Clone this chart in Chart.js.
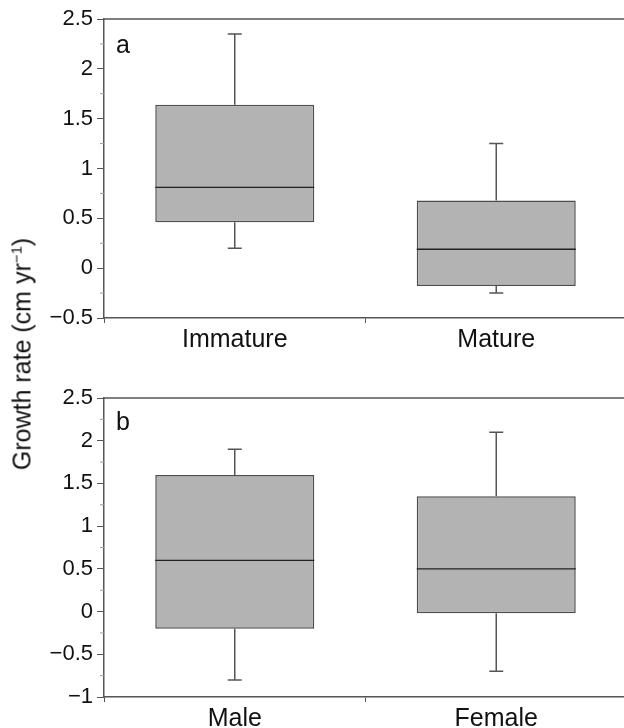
<!DOCTYPE html>
<html>
<head>
<meta charset="utf-8">
<script src="https://cdn.jsdelivr.net/npm/chart.js@4.4.1/dist/chart.umd.min.js"></script>
<style>
  html, body { margin: 0; padding: 0; background: #fff; overflow: hidden; width: 624px; height: 728px; }
  #wrap { position: relative; width: 624px; height: 728px; }
  canvas { position: absolute; left: 0; }
  #ca { top: 0; }
  #cb { top: 364px; }
  #ytitle {
    position: absolute; left: 22px; top: 354px;
    transform: translate(-50%, -50%) rotate(-90deg);
    white-space: nowrap; font-family: "Liberation Sans", Arial, Helvetica, sans-serif;
    font-size: 25px; color: #111;
  }
  #ytitle sup { font-size: 15px; vertical-align: 9px; line-height: 0; }
</style>
</head>
<body>
<div id="wrap">
  <canvas id="ca" width="628" height="364"></canvas>
  <canvas id="cb" width="628" height="364"></canvas>
  <div id="ytitle">Growth rate (cm yr<sup>−1</sup>)</div>
</div>
<script>
// ---- Data ----
const panelLetters = ['a', 'b'];

const categoriesA = ['Immature', 'Mature'];
const minA = [0.2, -0.25];
const q1A = [0.46, -0.18];
const medianA = [0.81, 0.19];
const q3A = [1.64, 0.68];
const maxA = [2.35, 1.25];
const yRangeA = [-0.5, 2.5];

const categoriesB = ['Male', 'Female'];
const minB = [-0.8, -0.7];
const q1B = [-0.2, -0.02];
const medianB = [0.6, 0.5];
const q3B = [1.6, 1.35];
const maxB = [1.9, 2.1];
const yRangeB = [-1, 2.5];

const yStep = 0.5;

// ---- Styling ----
const FONT = '"Liberation Sans", Arial, Helvetica, sans-serif';
const AXIS = '#555555';
const BOX_FILL = '#b3b3b3';
const BOX_LINE = '#4d4d4d';
const WHISK = '#555555';
const MED = '#222222';

function fmt(v) {
  return String(Number(v.toFixed(2))).replace('-', '\u2212');
}

const boxPlugin = {
  id: 'boxExtras',
  afterDatasetsDraw(chart, args, opts) {
    const ctx = chart.ctx;
    const xs = chart.scales.x, ys = chart.scales.y;
    const meta = chart.getDatasetMeta(0);
    const ca = chart.chartArea;
    ctx.save();
    // whiskers & medians
    opts.med.forEach((m, i) => {
      const bar = meta.data[i];
      const x = xs.getPixelForValue(i);
      const half = bar.width / 2;
      ctx.strokeStyle = WHISK; ctx.lineWidth = 1.5;
      ctx.beginPath();
      ctx.moveTo(x, ys.getPixelForValue(opts.q3[i]));
      ctx.lineTo(x, ys.getPixelForValue(opts.max[i]));
      ctx.moveTo(x - 7, ys.getPixelForValue(opts.max[i]));
      ctx.lineTo(x + 7, ys.getPixelForValue(opts.max[i]));
      ctx.moveTo(x, ys.getPixelForValue(opts.q1[i]));
      ctx.lineTo(x, ys.getPixelForValue(opts.min[i]));
      ctx.moveTo(x - 7, ys.getPixelForValue(opts.min[i]));
      ctx.lineTo(x + 7, ys.getPixelForValue(opts.min[i]));
      ctx.stroke();
      ctx.strokeStyle = MED; ctx.lineWidth = 1.3;
      ctx.beginPath();
      ctx.moveTo(x - half, ys.getPixelForValue(m));
      ctx.lineTo(x + half, ys.getPixelForValue(m));
      ctx.stroke();
    });
    // top frame line
    ctx.strokeStyle = AXIS; ctx.lineWidth = 1.5;
    ctx.beginPath();
    ctx.moveTo(ca.left, ca.top);
    ctx.lineTo(ca.right, ca.top);
    ctx.stroke();
    // minor ticks
    ctx.strokeStyle = '#9a9a9a'; ctx.lineWidth = 1;
    const t = ys.ticks;
    for (let k = 0; k < t.length - 1; k++) {
      const y = ys.getPixelForValue((t[k].value + t[k + 1].value) / 2);
      ctx.beginPath();
      ctx.moveTo(ca.left - 4, y);
      ctx.lineTo(ca.left, y);
      ctx.stroke();
    }
    // panel letter
    ctx.fillStyle = '#111';
    ctx.font = '25px ' + FONT;
    ctx.textBaseline = 'alphabetic';
    ctx.textAlign = 'left';
    ctx.fillText(opts.letter, ca.left + 12, ca.top + opts.letterDy);
    ctx.restore();
  }
};

function makePanel(id, cats, mn, q1, med, q3, mx, yr, letter, padTop, xAxisH, letterDy) {
  new Chart(document.getElementById(id), {
    type: 'bar',
    data: {
      labels: cats,
      datasets: [{
        data: cats.map((c, i) => [q1[i], q3[i]]),
        backgroundColor: BOX_FILL,
        borderColor: BOX_LINE,
        borderWidth: 1.5,
        borderSkipped: false,
        barPercentage: 0.608,
        categoryPercentage: 1.0
      }]
    },
    options: {
      responsive: false,
      animation: false,
      devicePixelRatio: 1,
      layout: { padding: { top: padTop, right: 1, left: 0, bottom: 0 } },
      plugins: {
        legend: { display: false },
        tooltip: { enabled: false },
        boxExtras: { min: mn, q1: q1, med: med, q3: q3, max: mx, letter: letter, letterDy: letterDy }
      },
      scales: {
        x: {
          grid: { display: true, drawOnChartArea: false, drawTicks: true, tickLength: 5, color: AXIS, offset: true },
          border: { display: true, color: AXIS, width: 1.5 },
          ticks: { color: '#111', font: { family: FONT, size: 25 }, padding: 2, maxRotation: 0 },
          afterFit(scale) { scale.height = xAxisH; }
        },
        y: {
          min: yr[0], max: yr[1],
          grid: { display: true, drawOnChartArea: false, drawTicks: true, tickLength: 7, color: AXIS },
          border: { display: true, color: AXIS, width: 1.5 },
          ticks: { stepSize: yStep, color: '#111', font: { family: FONT, size: 22 }, padding: 4,
                   callback: (v) => fmt(v) },
          afterFit(scale) { scale.width = 104; }
        }
      }
    },
    plugins: [boxPlugin]
  });
}

makePanel('ca', categoriesA, minA, q1A, medianA, q3A, maxA, yRangeA, panelLetters[0], 19, 46, 34);
makePanel('cb', categoriesB, minB, q1B, medianB, q3B, maxB, yRangeB, panelLetters[1], 34, 31, 32);
</script>
</body>
</html>
